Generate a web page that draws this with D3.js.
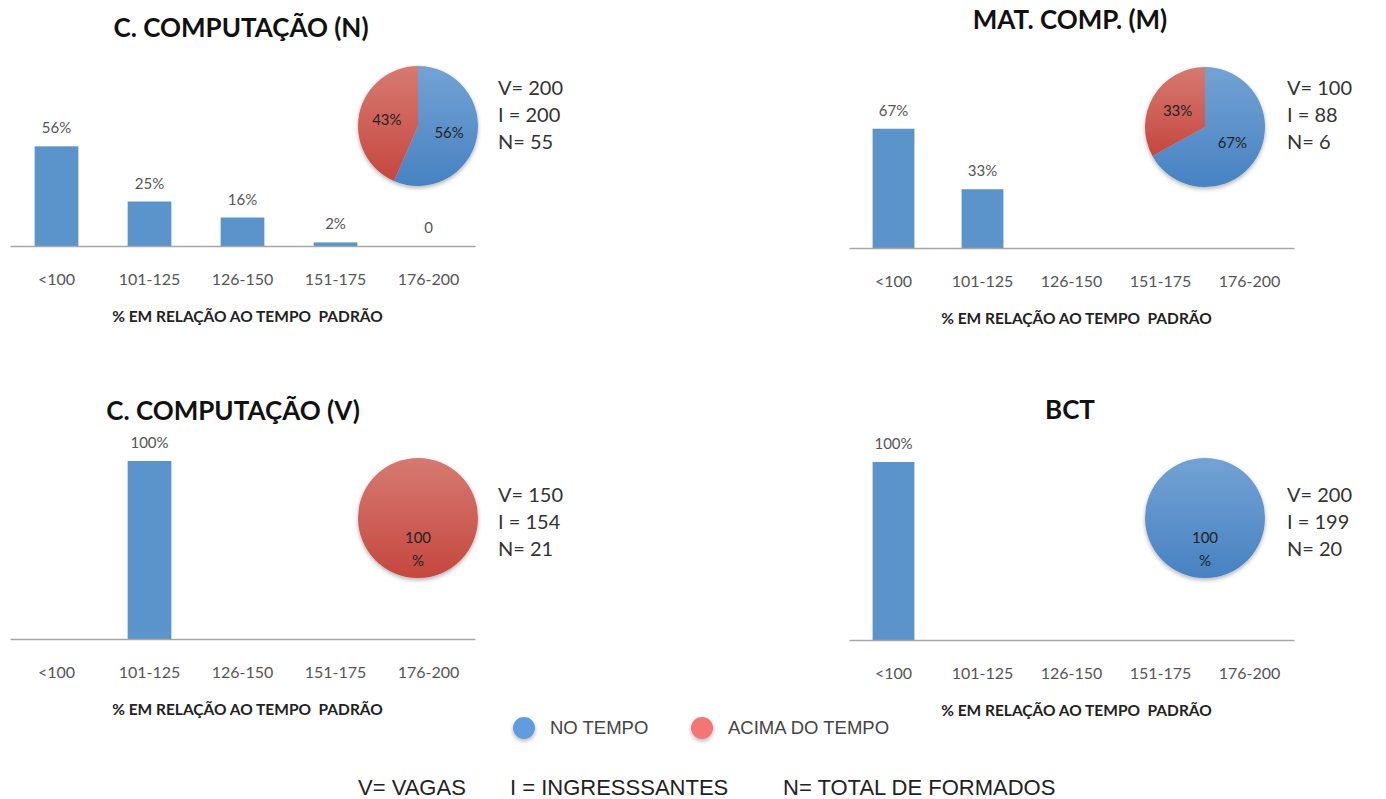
<!DOCTYPE html>
<html>
<head>
<meta charset="utf-8">
<script src="https://cdn.jsdelivr.net/npm/d3@7"></script>
<style>
  html, body { margin: 0; padding: 0; background: #ffffff; }
  svg { display: block; }
</style>
</head>
<body>
<svg id="chart" width="1386" height="799"></svg>
<script>
// Tempo de formação por curso: distribuição (barras) e proporção no tempo / acima do tempo (pizza)
const categories = ["<100", "101-125", "126-150", "151-175", "176-200"];
const panelTitles = ["C. COMPUTAÇÃO (N)", "MAT. COMP. (M)", "C. COMPUTAÇÃO (V)", "BCT"];

// % de formados em cada faixa (null = sem barra nem rótulo)
const barsCompN = [56, 25, 16, 2, 0];
const barsMatComp = [67, 33, null, null, null];
const barsCompV = [null, 100, null, null, null];
const barsBCT = [100, null, null, null, null];

// Pizza: % no tempo e % acima do tempo
const noTempo = [56, 67, 0, 100];
const acimaTempo = [43, 33, 100, 0];

// V = vagas, I = ingressantes, N = total de formados
const vagas = [200, 100, 150, 200];
const ingressantes = [200, 88, 154, 199];
const formados = [55, 6, 21, 20];

const legendLabels = ["NO TEMPO", "ACIMA DO TEMPO"];
const footnoteLabels = ["V= VAGAS", "I = INGRESSSANTES", "N= TOTAL DE FORMADOS"];
const axisTitle = "% EM RELAÇÃO AO TEMPO  PADRÃO";

const barSeries = [barsCompN, barsMatComp, barsCompV, barsBCT];

// Placement of the four panels
const layout = [
  { x0: 10,  x1: 475,  base: 246, titleX: 241,  titleY: 37,  pieX: 418,  pieY: 126, statX: 498,  statY: 95 },
  { x0: 849, x1: 1294, base: 248, titleX: 1070, titleY: 29,  pieX: 1205, pieY: 127, statX: 1287, statY: 95 },
  { x0: 10,  x1: 475,  base: 639, titleX: 233,  titleY: 420, pieX: 418,  pieY: 518, statX: 498,  statY: 502 },
  { x0: 849, x1: 1294, base: 640, titleX: 1070, titleY: 419, pieX: 1205, pieY: 518, statX: 1287, statY: 502 }
];

const FONT = "Lato, 'Open Sans', sans-serif";
const SANS = "'Liberation Sans', Arial, sans-serif";
const BLUE_BAR = "#5b93cb";
const svg = d3.select("#chart");

// Gradients and shadow for the pies
const defs = svg.append("defs");
function grad(id, top, bottom) {
  const g = defs.append("linearGradient").attr("id", id)
    .attr("x1", 0).attr("y1", 0).attr("x2", 0).attr("y2", 1);
  g.append("stop").attr("offset", "0%").attr("stop-color", top);
  g.append("stop").attr("offset", "100%").attr("stop-color", bottom);
}
grad("gBlue", "#73a2d4", "#4782c2");
grad("gRed", "#d67a72", "#c5473f");
const sh = defs.append("filter").attr("id", "shadow")
  .attr("x", "-20%").attr("y", "-20%").attr("width", "140%").attr("height", "150%");
sh.append("feDropShadow").attr("dx", 0).attr("dy", 2).attr("stdDeviation", 2)
  .attr("flood-color", "#000").attr("flood-opacity", 0.3);

const yScale = d3.scaleLinear().domain([0, 100]).range([0, 178]);
const pie = d3.pie().sort(null).value(d => d.value);
const R = 60;
const arc = d3.arc().innerRadius(0).outerRadius(R);
const labelArc = d3.arc().innerRadius(R * 0.53).outerRadius(R * 0.53);

barSeries.forEach((vals, i) => {
  const L = layout[i];
  const g = svg.append("g");

  // title
  g.append("text")
    .attr("x", L.titleX).attr("y", L.titleY)
    .attr("text-anchor", "middle")
    .attr("font-family", FONT).attr("font-weight", 700).attr("font-size", 26)
    .attr("fill", "#111")
    .text(panelTitles[i]);

  const x = d3.scaleBand().domain(categories).range([L.x0, L.x1]).padding(0);
  const bw = x.bandwidth() * 0.47;
  const data = categories.map((c, k) => ({ cat: c, v: vals[k] })).filter(d => d.v !== null);

  g.selectAll("rect.bar").data(data).join("rect")
    .attr("class", "bar")
    .attr("x", d => x(d.cat) + (x.bandwidth() - bw) / 2)
    .attr("width", bw)
    .attr("y", d => L.base - yScale(d.v))
    .attr("height", d => yScale(d.v))
    .attr("fill", BLUE_BAR);

  g.selectAll("text.val").data(data).join("text")
    .attr("class", "val")
    .attr("x", d => x(d.cat) + x.bandwidth() / 2)
    .attr("y", d => L.base - yScale(d.v) - 13)
    .attr("text-anchor", "middle")
    .attr("font-family", FONT).attr("font-size", 15)
    .attr("fill", "#555")
    .text(d => d.v === 0 ? "0" : d.v + "%");

  // category axis
  const axis = d3.axisBottom(x).tickSize(0).tickPadding(0);
  const ag = g.append("g").attr("transform", `translate(0,${L.base})`).call(axis);
  ag.select(".domain").attr("stroke", "#a6a6a6").attr("stroke-width", 1.5);
  ag.selectAll(".tick text")
    .attr("dy", 0).attr("y", 39)
    .attr("font-family", FONT).attr("font-size", 16)
    .attr("fill", "#555");

  g.append("text")
    .attr("x", (L.x0 + L.x1) / 2 + 5).attr("y", L.base + 76)
    .attr("text-anchor", "middle")
    .attr("font-family", FONT).attr("font-weight", 700).attr("font-size", 15.5)
    .attr("fill", "#222")
    .style("white-space", "pre")
    .attr("xml:space", "preserve")
    .text(axisTitle);

  // pie
  const slices = [
    { key: "no", value: noTempo[i], fill: "url(#gBlue)" },
    { key: "acima", value: acimaTempo[i], fill: "url(#gRed)" }
  ].filter(d => d.value > 0);
  const pg = g.append("g").attr("transform", `translate(${L.pieX},${L.pieY})`);
  const arcs = pie(slices);
  pg.append("g").attr("filter", "url(#shadow)")
    .selectAll("path").data(arcs).join("path")
    .attr("d", arc)
    .attr("fill", d => d.data.fill);

  arcs.forEach(d => {
    const [cx, cy] = labelArc.centroid(d);
    const full = d.endAngle - d.startAngle >= 2 * Math.PI - 1e-6;
    const lines = full ? [String(d.data.value), "%"] : [d.data.value + "%"];
    const t = pg.append("text")
      .attr("text-anchor", "middle")
      .attr("font-family", FONT).attr("font-size", 15)
      .attr("fill", "#222");
    lines.forEach((ln, k) => {
      t.append("tspan")
        .attr("x", cx)
        .attr("y", cy + 5 + (k - (lines.length - 1) / 2) * 23)
        .text(ln);
    });
  });

  // V / I / N
  const stats = [`V= ${vagas[i]}`, `I = ${ingressantes[i]}`, `N= ${formados[i]}`];
  g.selectAll("text.stat").data(stats).join("text")
    .attr("class", "stat")
    .attr("x", L.statX).attr("y", (d, k) => L.statY + k * 27)
    .attr("font-family", FONT).attr("font-size", 20)
    .attr("fill", "#333")
    .text(d => d);
});

// legend
const legendX = [524, 702];
const legendColors = ["#5e9de0", "#f37474"];
const lg = svg.append("g");
legendLabels.forEach((lab, k) => {
  lg.append("circle")
    .attr("cx", legendX[k]).attr("cy", 728).attr("r", 11)
    .attr("fill", legendColors[k]).attr("filter", "url(#shadow)");
  lg.append("text")
    .attr("x", legendX[k] + 26).attr("y", 734)
    .attr("font-family", SANS).attr("font-size", 18.5)
    .attr("fill", "#444")
    .text(lab);
});

// footnote
const footX = [358, 510, 783];
footnoteLabels.forEach((lab, k) => {
  svg.append("text")
    .attr("x", footX[k]).attr("y", 795)
    .attr("font-family", SANS).attr("font-size", 22)
    .attr("fill", "#222")
    .text(lab);
});
</script>
</body>
</html>
